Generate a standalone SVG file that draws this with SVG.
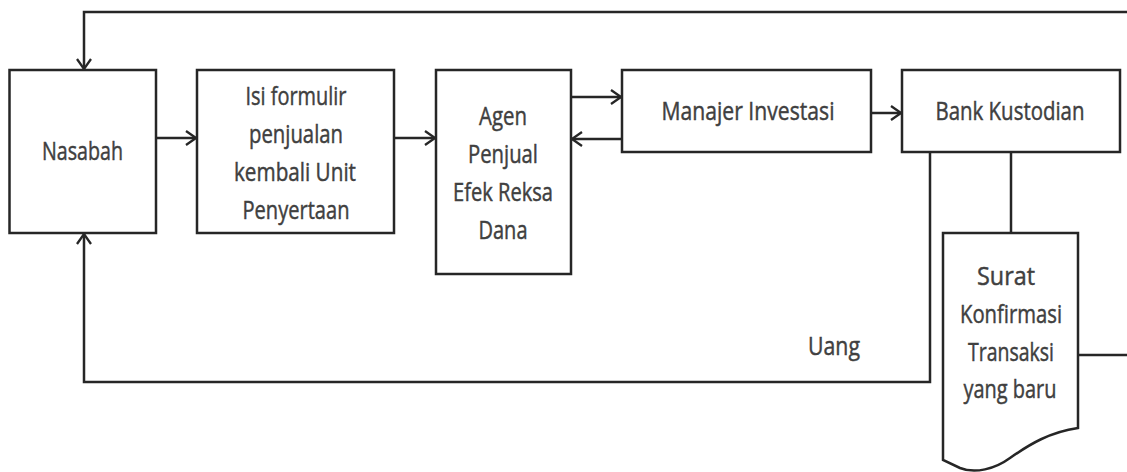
<svg xmlns="http://www.w3.org/2000/svg" width="1127" height="472" viewBox="0 0 1127 472">
<style>
.box{fill:#fff;stroke:#262626;stroke-width:2.5}
.ln{fill:none;stroke:#262626;stroke-width:2.5}
.t{font-family:"Open Sans","Liberation Sans",sans-serif;font-size:25px;fill:#404040;stroke:#404040;stroke-width:0.45;text-anchor:middle}
</style>
<defs>
<marker id="ah" viewBox="0 0 12 16" refX="11" refY="8" markerWidth="12" markerHeight="16" markerUnits="userSpaceOnUse" orient="auto">
<path d="M1,1 L11,8 L1,15" fill="none" stroke="#262626" stroke-width="2.3"/>
</marker>
</defs>
<rect width="1127" height="472" fill="#fff"/>
<g id="connectors">
<path class="ln" d="M1127,12 H84 V69" marker-end="url(#ah)"/>
<path class="ln" d="M156,138 H196" marker-end="url(#ah)"/>
<path class="ln" d="M394,138 H435" marker-end="url(#ah)"/>
<path class="ln" d="M571,97 H621" marker-end="url(#ah)"/>
<path class="ln" d="M622,139 H572" marker-end="url(#ah)"/>
<path class="ln" d="M871,113 H901" marker-end="url(#ah)"/>
<path class="ln" d="M930,152 V382 H84 V234" marker-end="url(#ah)"/>
<path class="ln" d="M1011,152 V233"/>
<path class="ln" d="M1078,355 H1127"/>
</g>
<g id="nasabah">
<rect class="box" x="9.5" y="70" width="146.5" height="163"/>
<text class="t" x="82.5" y="160" textLength="81" lengthAdjust="spacingAndGlyphs">Nasabah</text>
</g>
<g id="formulir">
<rect class="box" x="197" y="70" width="197" height="163"/>
<text class="t" x="296" y="105" textLength="101" lengthAdjust="spacingAndGlyphs">Isi formulir</text>
<text class="t" x="296" y="143" textLength="94" lengthAdjust="spacingAndGlyphs">penjualan</text>
<text class="t" x="295" y="181" textLength="122" lengthAdjust="spacingAndGlyphs">kembali Unit</text>
<text class="t" x="296" y="219" textLength="107" lengthAdjust="spacingAndGlyphs">Penyertaan</text>
</g>
<g id="agen">
<rect class="box" x="436" y="70" width="135" height="204"/>
<text class="t" x="503" y="125" textLength="48" lengthAdjust="spacingAndGlyphs">Agen</text>
<text class="t" x="503" y="163" textLength="70" lengthAdjust="spacingAndGlyphs">Penjual</text>
<text class="t" x="503" y="201" textLength="100" lengthAdjust="spacingAndGlyphs">Efek Reksa</text>
<text class="t" x="503" y="239" textLength="49" lengthAdjust="spacingAndGlyphs">Dana</text>
</g>
<g id="manajer">
<rect class="box" x="622" y="70" width="249" height="82"/>
<text class="t" x="748" y="120" textLength="173" lengthAdjust="spacingAndGlyphs">Manajer Investasi</text>
</g>
<g id="bank">
<rect class="box" x="902" y="70" width="218" height="82"/>
<text class="t" x="1010" y="120" textLength="149" lengthAdjust="spacingAndGlyphs">Bank Kustodian</text>
</g>
<g id="surat">
<path class="box" d="M943,233 H1078 V428 C1050,432 1030,444 1010,458 C995,469 975,474 960,468 L943,460 Z"/>
<text class="t" x="1006" y="285" textLength="58" lengthAdjust="spacingAndGlyphs">Surat</text>
<text class="t" x="1011" y="323" textLength="102" lengthAdjust="spacingAndGlyphs">Konfirmasi</text>
<text class="t" x="1011" y="361" textLength="86" lengthAdjust="spacingAndGlyphs">Transaksi</text>
<text class="t" x="1010" y="398" textLength="93" lengthAdjust="spacingAndGlyphs">yang baru</text>
</g>
<g id="uang">
<text class="t" x="834" y="355" textLength="52" lengthAdjust="spacingAndGlyphs">Uang</text>
</g>
</svg>
